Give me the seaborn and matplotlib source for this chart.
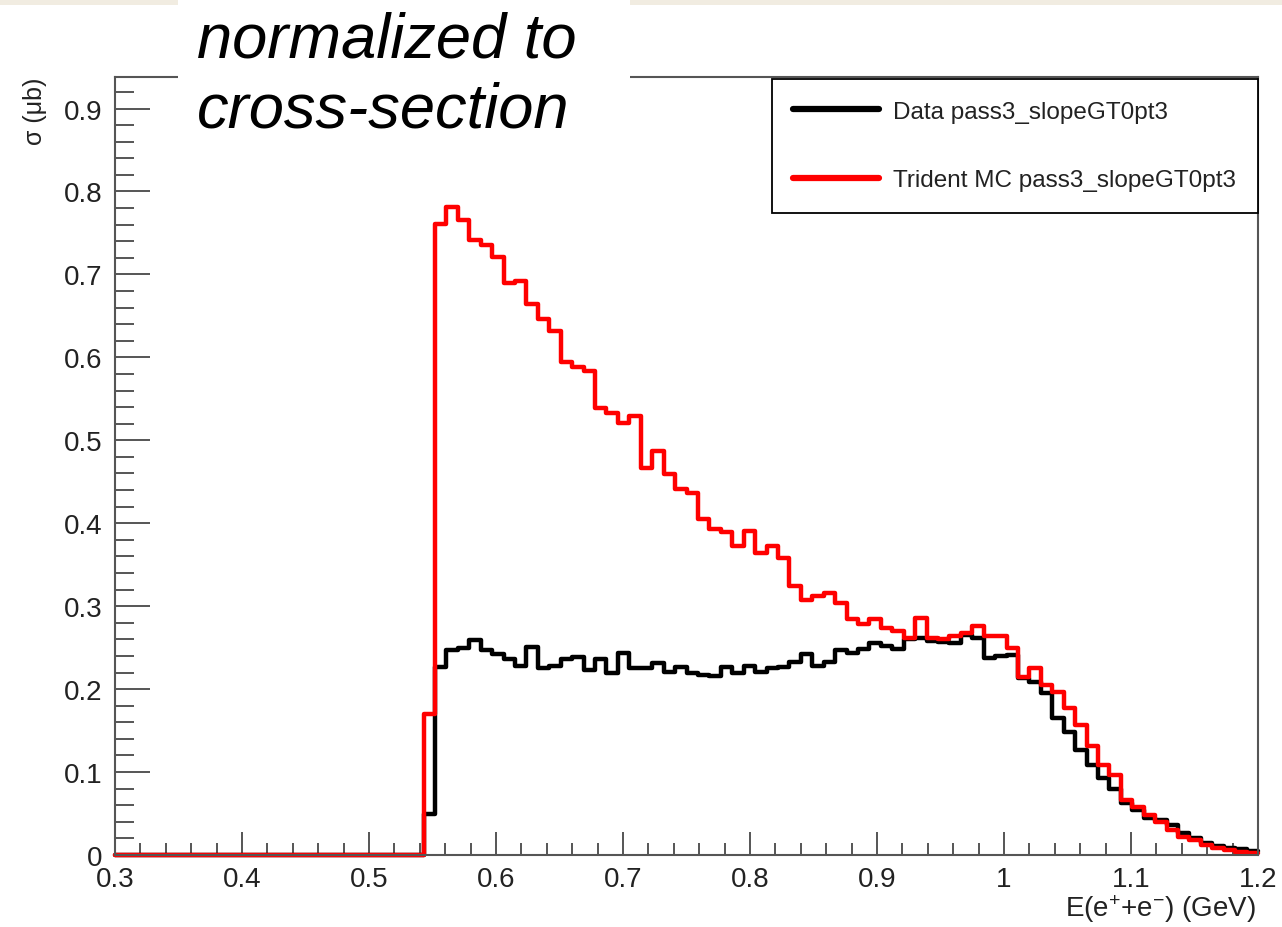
import numpy as np
import pandas as pd
import matplotlib
matplotlib.use("Agg")
import matplotlib.pyplot as plt
from matplotlib.ticker import MultipleLocator, FuncFormatter
from matplotlib.patches import Rectangle
from matplotlib.lines import Line2D
import seaborn as sns

# ---------------- data ----------------
x_min, x_max, n_bins = 0.3, 1.2, 100
data_label = "Data pass3_slopeGT0pt3"
mc_label = "Trident MC pass3_slopeGT0pt3"

data_sigma = [0.0] * 27 + [
    0.050, 0.227, 0.247, 0.250, 0.259, 0.247, 0.242, 0.236, 0.228, 0.251,
    0.225, 0.228, 0.236, 0.239, 0.223, 0.236, 0.220, 0.243, 0.225, 0.226,
    0.231, 0.221, 0.227, 0.219, 0.217, 0.216, 0.227, 0.219, 0.228, 0.221,
    0.225, 0.227, 0.233, 0.242, 0.228, 0.233, 0.247, 0.243, 0.248, 0.255,
    0.252, 0.248, 0.260, 0.262, 0.258, 0.257, 0.256, 0.265, 0.262, 0.238,
    0.240, 0.241, 0.214, 0.209, 0.195, 0.165, 0.148, 0.127, 0.109, 0.093,
    0.079, 0.063, 0.054, 0.045, 0.042, 0.036, 0.026, 0.020, 0.015, 0.011,
    0.009, 0.007, 0.005,
]

mc_sigma = [0.0] * 27 + [
    0.170, 0.761, 0.781, 0.765, 0.741, 0.735, 0.721, 0.690, 0.692, 0.664,
    0.646, 0.632, 0.594, 0.588, 0.584, 0.539, 0.533, 0.521, 0.529, 0.467,
    0.487, 0.459, 0.441, 0.437, 0.405, 0.393, 0.389, 0.372, 0.391, 0.364,
    0.372, 0.358, 0.324, 0.308, 0.312, 0.316, 0.304, 0.284, 0.278, 0.284,
    0.274, 0.270, 0.262, 0.286, 0.262, 0.260, 0.264, 0.268, 0.276, 0.264,
    0.264, 0.250, 0.215, 0.225, 0.205, 0.197, 0.177, 0.157, 0.131, 0.109,
    0.097, 0.066, 0.058, 0.048, 0.040, 0.030, 0.022, 0.018, 0.012, 0.008,
    0.006, 0.004, 0.002,
]

x_ticks = [0.3, 0.4, 0.5, 0.6, 0.7, 0.8, 0.9, 1.0, 1.1, 1.2]
y_ticks = [0, 0.1, 0.2, 0.3, 0.4, 0.5, 0.6, 0.7, 0.8, 0.9]

# ---------------- style ----------------
sns.set_style("white")
plt.rcParams["font.family"] = ["Liberation Sans", "DejaVu Sans"]
plt.rcParams["mathtext.fontset"] = "custom"
plt.rcParams["mathtext.rm"] = "Liberation Sans"
plt.rcParams["mathtext.it"] = "Liberation Sans:italic"

W, H = 1282, 928
fig = plt.figure(figsize=(W / 100, H / 100), dpi=100)
ax = fig.add_axes([115 / W, 1 - 856 / H, (1258 - 115) / W, (856 - 78) / H])

edges = np.linspace(x_min, x_max, n_bins + 1)
centers = 0.5 * (edges[:-1] + edges[1:])
df_data = pd.DataFrame({"E": centers, "sigma": data_sigma})
df_mc = pd.DataFrame({"E": centers, "sigma": mc_sigma})

sns.histplot(data=df_data, x="E", weights="sigma", bins=n_bins,
             binrange=(x_min, x_max), element="step", fill=False,
             color="black", linewidth=3.2, ax=ax, clip_on=False)
sns.histplot(data=df_mc, x="E", weights="sigma", bins=n_bins,
             binrange=(x_min, x_max), element="step", fill=False,
             color="#ff0000", linewidth=3.2, ax=ax, clip_on=False)

ax.set_xlim(x_min, x_max)
ax.set_ylim(0, 0.938)
ax.set_xlabel("")
ax.set_ylabel("")

frame_col = "#555555"
for s in ax.spines.values():
    s.set_color(frame_col)
    s.set_linewidth(1.5)

fmt = FuncFormatter(lambda v, p: "%g" % round(v, 3))
ax.set_xticks(x_ticks)
ax.set_yticks(y_ticks)
ax.xaxis.set_major_formatter(fmt)
ax.yaxis.set_major_formatter(fmt)
ax.xaxis.set_minor_locator(MultipleLocator(0.02))
ax.yaxis.set_minor_locator(MultipleLocator(0.02))
ax.tick_params(axis="x", which="major", direction="in", length=16.5, width=1.4,
               color=frame_col, labelsize=20, pad=8, bottom=True, top=False)
ax.tick_params(axis="x", which="minor", direction="in", length=8.5, width=1.4,
               color=frame_col, bottom=True, top=False)
ax.tick_params(axis="y", which="major", direction="in", length=25, width=1.4,
               color=frame_col, labelsize=20, pad=9, left=True, right=False)
ax.tick_params(axis="y", which="minor", direction="in", length=13.5, width=1.4,
               color=frame_col, left=True, right=False)
for lab in ax.get_xticklabels() + ax.get_yticklabels():
    lab.set_color("#222222")

# axis titles (ROOT style, at the ends of the axes)
fig.text(1256 / W, 1 - 893 / H, r"E(e$^{+}$+e$^{-}$) (GeV)", ha="right",
         va="top", fontsize=20, color="#222222")
fig.text(35 / W, 1 - 78 / H, "σ (μb)", ha="center", va="top", rotation=90,
         fontsize=18, color="#222222")

# legend
handles = [Line2D([], [], color="black", lw=4.5),
           Line2D([], [], color="#ff0000", lw=4.5)]
leg = ax.legend(handles, [data_label, mc_label], loc="upper right",
                bbox_to_anchor=(1258 / W, 1 - 80 / H),
                bbox_transform=fig.transFigure, borderaxespad=0,
                fontsize=17.5, handlelength=3.5, handletextpad=0.6,
                borderpad=0.9, labelspacing=1.9, frameon=True,
                fancybox=False, framealpha=1, edgecolor="black")
leg.get_frame().set_linewidth(1.3)
for t in leg.get_texts():
    t.set_color("#222222")

# slide decoration: faint top band and white annotation box
fig.patches.append(Rectangle((0, 1 - 6 / H), 1, 6 / H, transform=fig.transFigure,
                             facecolor="#f1ece1", edgecolor="none", zorder=1))
fig.patches.append(Rectangle((178 / W, 1 - 80 / H), (630 - 178) / W, 80 / H,
                             transform=fig.transFigure, facecolor="white",
                             edgecolor="none", zorder=2))
fig.text(197 / W, 1 - 58 / H, "normalized to", ha="left", va="baseline",
         fontsize=45.5, style="italic", color="black", zorder=3)
fig.text(197 / W, 1 - 128 / H, "cross-section", ha="left", va="baseline",
         fontsize=45.5, style="italic", color="black", zorder=3)

fig.savefig("out.png", dpi=100)
